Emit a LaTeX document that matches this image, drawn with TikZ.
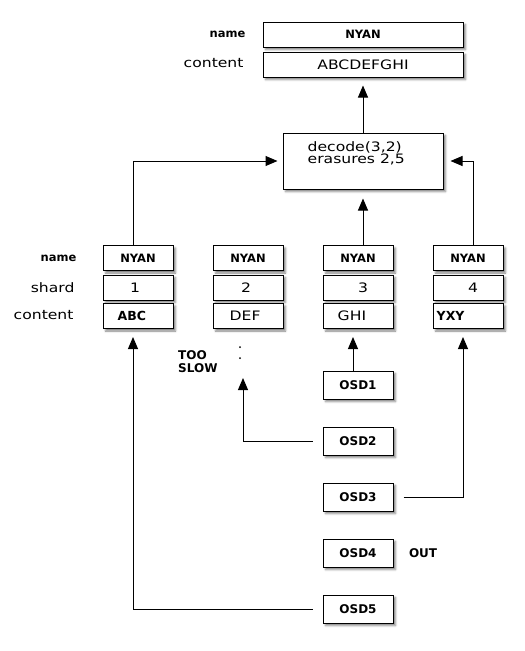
\documentclass[tikz,border=0pt]{standalone}
\usepackage{fontspec}
\setmainfont{DejaVu Sans}
\newfontfamily\widefont{DejaVu Sans}[FakeStretch=1.2]
\usetikzlibrary{arrows.meta}
\usetikzlibrary{calc,positioning,shapes,shadows.blur}

\tikzset{
  box/.style={draw, fill=white, line width=1pt, rectangle, inner sep=0pt,
    blur shadow={shadow xshift=2.5pt, shadow yshift=-2.5pt, shadow blur radius=2pt, shadow opacity=50}},
  cell/.style={box, minimum width=70pt, minimum height=25pt},
  wide/.style={box, minimum width=200pt, minimum height=25pt},
  osdbox/.style={box, minimum width=70pt, minimum height=28pt, font=\bfseries\fontsize{12}{14}\selectfont},
  reg/.style={font=\widefont\fontsize{13}{15}\selectfont},
  bld/.style={font=\bfseries\fontsize{11.5}{13}\selectfont},
  link/.style={line width=1pt},
  arr/.style={link, -{Triangle[length=12pt,width=10pt]}},
}

\begin{document}
\begin{tikzpicture}[x=1pt, y=-1pt, >=Stealth]
  \useasboundingbox (0,0) rectangle (525,651);

  % object as stored
  \node[wide, bld] (objname) at (363,34.5) {NYAN};
  \node[wide, reg] (objcont) at (363,64.5) {ABCDEFGHI};
  \node[bld, anchor=east] (lblname) at (249,34.5) {name};
  \node[reg, anchor=east] (lblcont) at (247,63) {content};

  % decoder
  \node[box, minimum width=160pt, minimum height=56pt] (dec) at (363,161) {};
  \node[font=\widefont\fontsize{13}{11.5}\selectfont, align=left, anchor=north west, inner sep=0pt]
    (dectxt) at ([xshift=25pt, yshift=-9pt]dec.north west) {decode(3,2)\\erasures 2,5};

  % shards
  \node[bld, anchor=east] (rowname) at (80,258) {name};
  \node[reg, anchor=east] (rowshard) at (78,287.5) {shard};
  \node[reg, anchor=east] (rowcont) at (77,315) {content};
  \foreach \i/\x in {1/138, 2/248, 3/358, 4/468} {
    \node[cell, bld] (n\i) at (\x,258) {NYAN};
    \node[cell] (s\i) at (\x,287.5) {};
    \node[cell] (c\i) at (\x,316) {};
  }
  \node[reg] (num1) at ([xshift=-3pt]s1.center) {1};
  \node[reg] (num2) at ([xshift=-2pt]s2.center) {2};
  \node[reg] (num3) at ([xshift=5pt]s3.center) {3};
  \node[reg] (num4) at ([xshift=5pt]s4.center) {4};
  \node[bld, anchor=west, inner sep=0pt, font=\bfseries\fontsize{12.5}{14}\selectfont] (txt1) at ([xshift=15pt]c1.west) {ABC};
  \node[reg, anchor=west, inner sep=0pt] (txt2) at ([xshift=17pt]c2.west) {DEF};
  \node[reg, anchor=west, inner sep=0pt] (txt3) at ([xshift=15pt]c3.west) {GHI};
  \node[bld, anchor=west, inner sep=0pt, font=\bfseries\fontsize{12.5}{14}\selectfont] (txt4) at ([xshift=4pt]c4.west) {YXY};

  % osds
  \foreach \i/\y in {1/385, 2/441, 3/497, 4/553, 5/609}
    \node[osdbox] (osd\i) at (358,\y) {OSD\i};
  \node[bld, anchor=west, font=\bfseries\fontsize{12}{14}\selectfont] (out) at ([xshift=12pt]osd4.east) {OUT};
  \node[align=left, anchor=north west, inner sep=0pt, font=\bfseries\fontsize{12}{13.5}\selectfont]
    (slow) at (178,350) {TOO\\SLOW};
  \coordinate (lost) at ([xshift=-5pt, yshift=-49pt]c2.south);
  \fill (240,347) circle (1pt) (240,358) circle (1pt);

  % reads
  \draw[arr, shorten >=8pt] ([xshift=-5pt]osd1.north) -- ([xshift=-5pt]c3.south);
  \draw[arr] ([xshift=-10pt]osd2.west) -| (lost);
  \draw[arr, shorten >=8pt] ([xshift=10pt]osd3.east) -| ([xshift=-5pt]c4.south);
  \draw[arr, shorten >=8pt] ([xshift=-10pt]osd5.west) -| ([xshift=-5pt]c1.south);

  % decoding
  \draw[arr, shorten >=5pt] ([xshift=-5pt]n1.north) |- (dec.west);
  \draw[arr, shorten >=9pt] ([xshift=5pt]n3.north) -- ([xshift=0pt]dec.south);
  \draw[arr, shorten >=7pt] ([xshift=5pt]n4.north) |- (dec.east);
  \draw[arr, shorten >=8pt] (dec.north) -- (objcont.south);
\end{tikzpicture}
\end{document}
